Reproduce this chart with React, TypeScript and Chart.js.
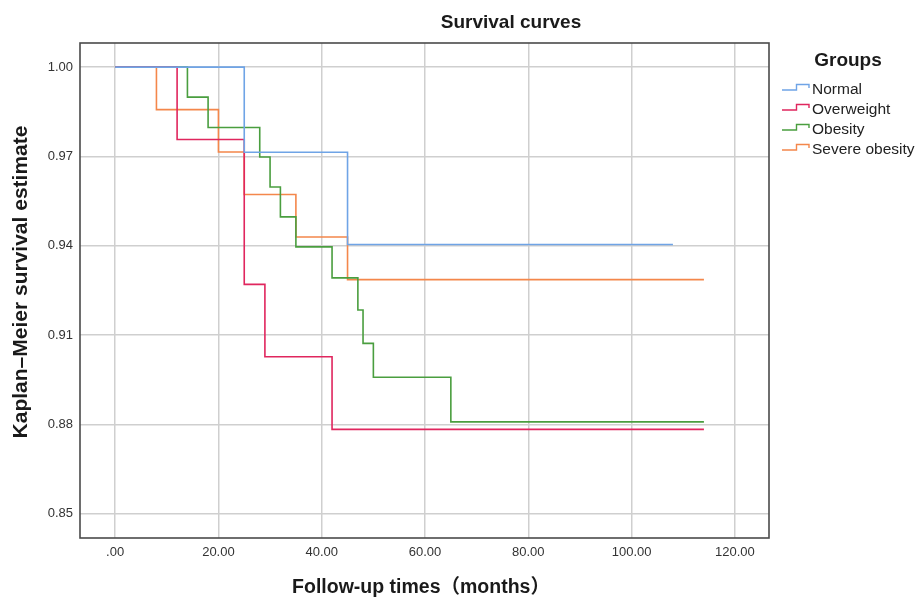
import React, { useEffect, useRef } from "react";
import { Chart, registerables } from "chart.js";

Chart.register(...registerables);

const GROUPS = ["Normal", "Overweight", "Obesity", "Severe obesity"];
const COLORS = ["#6fa4e6", "#e0265e", "#4a9e3f", "#f4874b"];

const NORMAL_T = [0, 25, 45, 108];
const NORMAL_S = [1.0, 0.9714, 0.9404, 0.9404];
const OVERWEIGHT_T = [0, 12, 25, 29, 42, 114];
const OVERWEIGHT_S = [1.0, 0.9757, 0.927, 0.9027, 0.8783, 0.8783];
const OBESITY_T = [0, 14, 18, 28, 30, 32, 35, 42, 47, 48, 50, 65, 114];
const OBESITY_S = [1.0, 0.9899, 0.9797, 0.9698, 0.9597, 0.9497, 0.9396, 0.9292, 0.9184, 0.9072, 0.8958, 0.8808, 0.8808];
const SEVERE_T = [0, 8, 20, 25, 35, 45, 114];
const SEVERE_S = [1.0, 0.9857, 0.9715, 0.9572, 0.9429, 0.9286, 0.9286];

const X_TICKS = [0, 20, 40, 60, 80, 100, 120];
const Y_TICKS = [0.85, 0.88, 0.91, 0.94, 0.97, 1.0];

const TITLE = "Survival curves";
const X_TITLE = "Follow-up times（months）";
const Y_TITLE = "Kaplan–Meier survival estimate";
const LEGEND_TITLE = "Groups";

const FONT = "'Liberation Sans', Arial, 'Noto Sans CJK SC', sans-serif";

function pts(t: number[], s: number[]) {
  return t.map((x, i) => ({ x, y: s[i] }));
}

const textPlugin = {
  id: "textPlugin",
  afterDraw(chart: any) {
    const ctx = chart.ctx;
    const a = chart.chartArea;
    ctx.save();
    // frame
    ctx.strokeStyle = "#4a4a4a";
    ctx.lineWidth = 1.6;
    ctx.strokeRect(a.left, a.top, a.right - a.left, a.bottom - a.top);
    // title
    ctx.fillStyle = "#1a1a1a";
    ctx.textAlign = "center";
    ctx.textBaseline = "middle";
    ctx.font = `bold 19px ${FONT}`;
    ctx.fillText(TITLE, 511, 23);
    // x title
    ctx.font = `bold 19.5px ${FONT}`;
    ctx.fillText(X_TITLE, 421, 588);
    // y title
    ctx.save();
    ctx.translate(21, 282);
    ctx.rotate(-Math.PI / 2);
    ctx.font = `bold 21px ${FONT}`;
    ctx.fillText(Y_TITLE, 0, 0);
    ctx.restore();
    // legend
    ctx.font = `bold 19px ${FONT}`;
    ctx.fillText(LEGEND_TITLE, 848, 61);
    ctx.font = `15.5px ${FONT}`;
    ctx.textAlign = "left";
    GROUPS.forEach((g, i) => {
      const y = 89 + i * 20;
      ctx.strokeStyle = COLORS[i];
      ctx.lineWidth = 1.4;
      ctx.beginPath();
      ctx.moveTo(782, y + 1);
      ctx.lineTo(796.5, y + 1);
      ctx.lineTo(796.5, y - 4.5);
      ctx.lineTo(809, y - 4.5);
      ctx.lineTo(809, y - 1);
      ctx.stroke();
      ctx.fillStyle = "#222";
      ctx.fillText(g, 812, y + 1);
    });
    ctx.restore();
  },
};

export default function App() {
  const ref = useRef<HTMLCanvasElement>(null);
  useEffect(() => {
    document.body.style.margin = "0";
    const series = [
      pts(NORMAL_T, NORMAL_S),
      pts(OVERWEIGHT_T, OVERWEIGHT_S),
      pts(OBESITY_T, OBESITY_S),
      pts(SEVERE_T, SEVERE_S),
    ];
    const chart = new Chart(ref.current!, {
      type: "line",
      data: {
        datasets: GROUPS.map((g, i) => ({
          label: g,
          data: series[i],
          borderColor: COLORS[i],
          backgroundColor: COLORS[i],
          borderWidth: 1.6,
          pointRadius: 0,
          stepped: "before" as const,
          fill: false,
        })),
      },
      options: {
        animation: false,
        responsive: false,
        layout: { padding: { top: 43, right: 150, left: 0, bottom: 0 } },
        plugins: { legend: { display: false }, title: { display: false }, tooltip: { enabled: false } },
        scales: {
          x: {
            type: "linear",
            min: -6.8,
            max: 126.6,
            afterFit(scale: any) {
              scale.height = 59;
            },
            afterBuildTicks(scale: any) {
              scale.ticks = X_TICKS.map((v) => ({ value: v }));
            },
            grid: { color: "#cfcfcf", lineWidth: 1.5, drawTicks: false },
            border: { display: false },
            ticks: {
              padding: 7,
              color: "#333",
              font: { family: FONT, size: 13 },
              maxRotation: 0,
              callback: (v: any) => (Number(v) === 0 ? ".00" : Number(v).toFixed(2)),
            },
          },
          y: {
            type: "linear",
            min: 0.8418,
            max: 1.0081,
            afterFit(scale: any) {
              scale.width = 80;
            },
            afterBuildTicks(scale: any) {
              scale.ticks = Y_TICKS.map((v) => ({ value: v }));
            },
            grid: { color: "#cfcfcf", lineWidth: 1.5, drawTicks: false },
            border: { display: false },
            ticks: {
              padding: 7,
              color: "#333",
              font: { family: FONT, size: 13 },
              callback: (v: any) => Number(v).toFixed(2),
            },
          },
        },
      },
      plugins: [textPlugin],
    });
    return () => chart.destroy();
  }, []);
  return <canvas ref={ref} width={919} height={597} style={{ display: "block" }} />;
}
